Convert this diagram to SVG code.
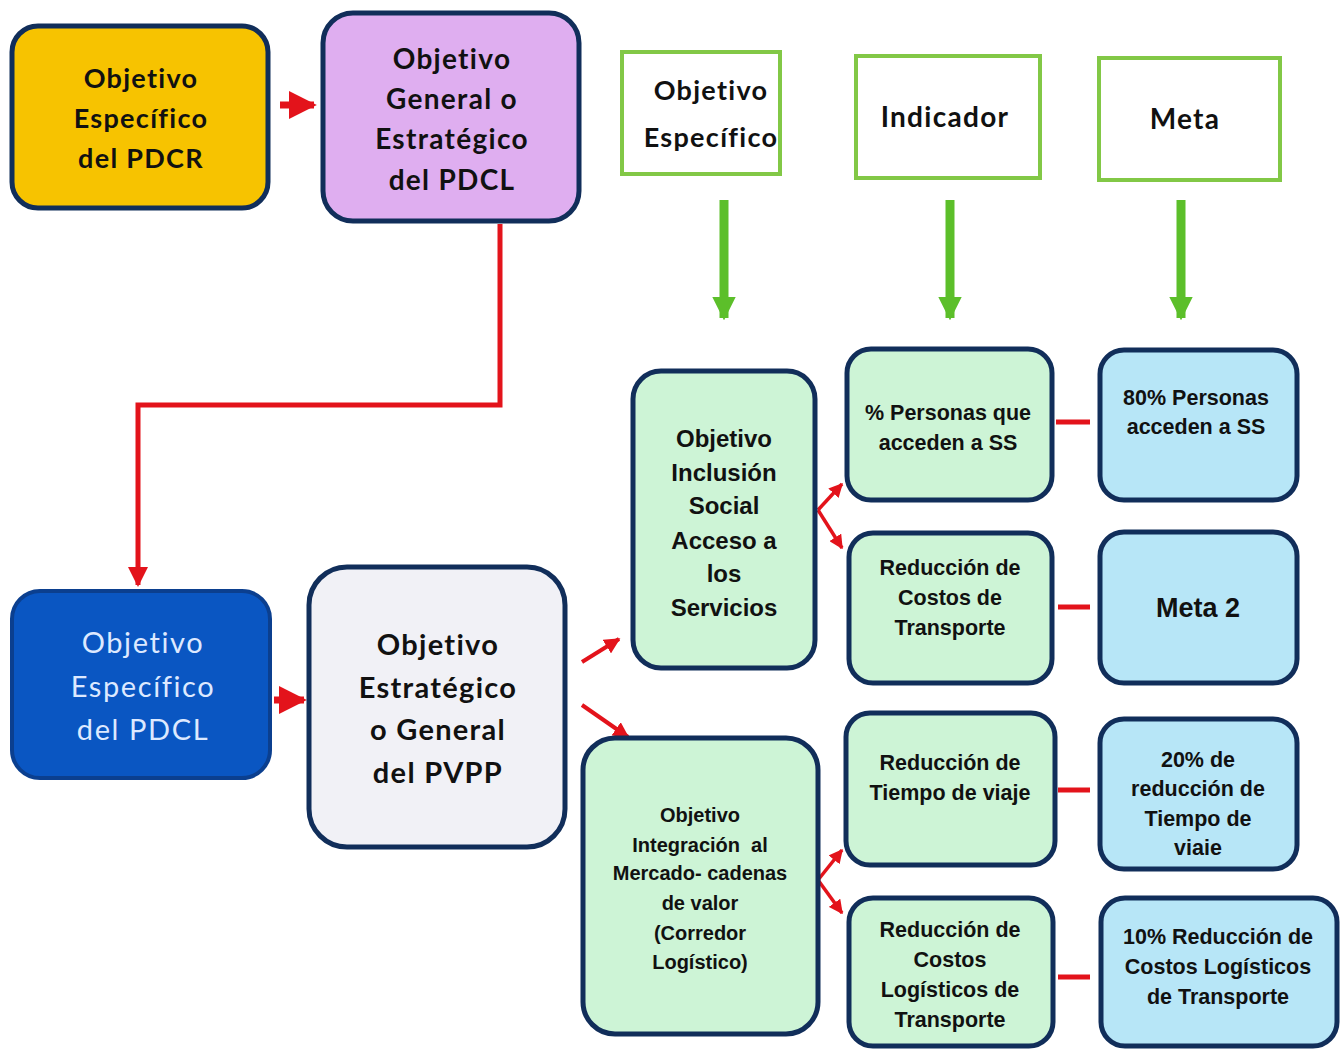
<svg xmlns="http://www.w3.org/2000/svg" width="1342" height="1049" viewBox="0 0 1342 1049">
<defs>
<marker id="ra" viewBox="0 0 10 10" refX="9" refY="5" markerWidth="4" markerHeight="4" orient="auto" markerUnits="strokeWidth">
<path d="M0,0 L10,5 L0,10 z" fill="#e3131b"/>
</marker>
<marker id="ga" viewBox="0 0 10 10" refX="9" refY="5" markerWidth="2.6" markerHeight="2.6" orient="auto" markerUnits="strokeWidth">
<path d="M0,0 L10,5 L0,10 z" fill="#5cbf2a"/>
</marker>
<style>
.box{stroke:#112e5a;stroke-width:5}
.hdr{fill:#ffffff;stroke:#82c846;stroke-width:4}
.t1{font-family:Lato,"Open Sans","Liberation Sans",sans-serif;font-weight:bold;text-anchor:middle;fill:#111;letter-spacing:1.3px}
.t2{font-family:"Liberation Sans Narrow","Liberation Sans",Arial,sans-serif;font-weight:bold;text-anchor:middle;fill:#111}
.grn{fill:#cdf4d6}
.blu{fill:#b7e6f7}
.rl{stroke:#e3131b;fill:none}
</style>
</defs>
<rect width="1342" height="1049" fill="#ffffff"/>

<g id="connectors">
<path class="rl" d="M280,105 L314,105" stroke-width="7" marker-end="url(#ra)"/>
<path class="rl" d="M500,224 L500,405 L138,405 L138,585" stroke-width="5" marker-end="url(#ra)"/>
<path class="rl" d="M274,700 L304,700" stroke-width="7" marker-end="url(#ra)"/>
<path class="rl" d="M582,662 L619,639" stroke-width="4" marker-end="url(#ra)"/>
<path class="rl" d="M582,705 L628,737" stroke-width="4" marker-end="url(#ra)"/>
<path class="rl" d="M818,510 L842,484" stroke-width="3.5" marker-end="url(#ra)"/>
<path class="rl" d="M818,510 L842,548" stroke-width="3.5" marker-end="url(#ra)"/>
<path class="rl" d="M818,880 L842,850" stroke-width="3.5" marker-end="url(#ra)"/>
<path class="rl" d="M818,880 L842,913" stroke-width="3.5" marker-end="url(#ra)"/>
<path class="rl" d="M1056,422 L1090,422" stroke-width="5"/>
<path class="rl" d="M1058,607 L1090,607" stroke-width="5"/>
<path class="rl" d="M1058,790 L1090,790" stroke-width="5"/>
<path class="rl" d="M1058,977 L1090,977" stroke-width="5"/>
<path d="M724,200 L724,318" stroke="#5cbf2a" stroke-width="9" marker-end="url(#ga)"/>
<path d="M950,200 L950,318" stroke="#5cbf2a" stroke-width="9" marker-end="url(#ga)"/>
<path d="M1181,200 L1181,318" stroke="#5cbf2a" stroke-width="9" marker-end="url(#ga)"/>
</g>

<g id="n-pdcr">
<rect class="box" x="12" y="26" width="256" height="182" rx="26" fill="#f7c300"/>
<text class="t1" font-size="27" x="141" y="88">Objetivo</text>
<text class="t1" font-size="27" x="141" y="128">Específico</text>
<text class="t1" font-size="27" x="141" y="168">del PDCR</text>
</g>

<g id="n-pdcl-gen">
<rect class="box" x="323" y="13" width="256" height="208" rx="30" fill="#dfaef0"/>
<text class="t1" font-size="28" x="452" y="69">Objetivo</text>
<text class="t1" font-size="28" x="452" y="109">General o</text>
<text class="t1" font-size="28" x="452" y="149">Estratégico</text>
<text class="t1" font-size="28" x="452" y="190">del PDCL</text>
</g>

<g id="h-obj">
<rect class="hdr" x="622" y="52" width="158" height="122"/>
<text class="t1" font-size="27" x="711" y="100">Objetivo</text>
<text class="t1" font-size="27" x="711" y="147">Específico</text>
</g>
<g id="h-ind">
<rect class="hdr" x="856" y="56" width="184" height="122"/>
<text class="t1" font-size="28" x="945" y="127">Indicador</text>
</g>
<g id="h-meta">
<rect class="hdr" x="1099" y="58" width="181" height="122"/>
<text class="t1" font-size="28" x="1185" y="129">Meta</text>
</g>

<g id="n-pdcl-esp">
<rect x="12" y="591" width="258" height="187" rx="28" fill="#0a56c2" stroke="#0b3f8f" stroke-width="4"/>
<text class="t1" font-size="29" x="143" y="653" style="fill:#dde9ff;font-weight:normal;letter-spacing:1.6px">Objetivo</text>
<text class="t1" font-size="29" x="143" y="697" style="fill:#dde9ff;font-weight:normal;letter-spacing:1.6px">Específico</text>
<text class="t1" font-size="29" x="143" y="740" style="fill:#dde9ff;font-weight:normal;letter-spacing:1.6px">del PDCL</text>
</g>

<g id="n-pvpp">
<rect class="box" x="309" y="567" width="256" height="280" rx="38" fill="#f1f1f6"/>
<text class="t1" font-size="29" x="438" y="655">Objetivo</text>
<text class="t1" font-size="29" x="438" y="698">Estratégico</text>
<text class="t1" font-size="29" x="438" y="740">o General</text>
<text class="t1" font-size="29" x="438" y="783">del PVPP</text>
</g>

<g id="n-inclusion">
<rect class="box grn" x="633" y="371" width="182" height="297" rx="28"/>
<text class="t2" font-size="24" x="724" y="447">Objetivo</text>
<text class="t2" font-size="24" x="724" y="481">Inclusión</text>
<text class="t2" font-size="24" x="724" y="514">Social</text>
<text class="t2" font-size="24" x="724" y="549">Acceso a</text>
<text class="t2" font-size="24" x="724" y="582">los</text>
<text class="t2" font-size="24" x="724" y="616">Servicios</text>
</g>

<g id="n-ind1">
<rect class="box grn" x="847" y="349" width="205" height="151" rx="24"/>
<text class="t2" font-size="21.5" x="948" y="420">% Personas que</text>
<text class="t2" font-size="21.5" x="948" y="450">acceden a SS</text>
</g>
<g id="n-meta1">
<rect class="box blu" x="1100" y="350" width="197" height="150" rx="24"/>
<text class="t2" font-size="21.5" x="1196" y="405">80% Personas</text>
<text class="t2" font-size="21.5" x="1196" y="434">acceden a SS</text>
</g>
<g id="n-ind2">
<rect class="box grn" x="849" y="533" width="203" height="150" rx="24"/>
<text class="t2" font-size="21.5" x="950" y="575">Reducción de</text>
<text class="t2" font-size="21.5" x="950" y="605">Costos de</text>
<text class="t2" font-size="21.5" x="950" y="635">Transporte</text>
</g>
<g id="n-meta2">
<rect class="box blu" x="1100" y="532" width="197" height="151" rx="24"/>
<text class="t2" font-size="27" x="1198" y="617">Meta 2</text>
</g>

<g id="n-integracion">
<rect class="box grn" x="583" y="738" width="235" height="296" rx="32"/>
<text class="t2" font-size="20" x="700" y="822">Objetivo</text>
<text class="t2" font-size="20" x="700" y="852" xml:space="preserve">Integración  al</text>
<text class="t2" font-size="20" x="700" y="880">Mercado- cadenas</text>
<text class="t2" font-size="20" x="700" y="910">de valor</text>
<text class="t2" font-size="20" x="700" y="940">(Corredor</text>
<text class="t2" font-size="20" x="700" y="969">Logístico)</text>
</g>

<g id="n-ind3">
<rect class="box grn" x="846" y="713" width="209" height="152" rx="24"/>
<text class="t2" font-size="21.5" x="950" y="770">Reducción de</text>
<text class="t2" font-size="21.5" x="950" y="800">Tiempo de viaje</text>
</g>
<g id="n-meta3">
<rect class="box blu" x="1100" y="719" width="197" height="150" rx="24"/>
<text class="t2" font-size="21.5" x="1198" y="767">20% de</text>
<text class="t2" font-size="21.5" x="1198" y="796">reducción de</text>
<text class="t2" font-size="21.5" x="1198" y="826">Tiempo de</text>
<text class="t2" font-size="21.5" x="1198" y="855">viaie</text>
</g>
<g id="n-ind4">
<rect class="box grn" x="849" y="898" width="204" height="148" rx="24"/>
<text class="t2" font-size="21.5" x="950" y="937">Reducción de</text>
<text class="t2" font-size="21.5" x="950" y="967">Costos</text>
<text class="t2" font-size="21.5" x="950" y="997">Logísticos de</text>
<text class="t2" font-size="21.5" x="950" y="1027">Transporte</text>
</g>
<g id="n-meta4">
<rect class="box blu" x="1101" y="898" width="236" height="148" rx="24"/>
<text class="t2" font-size="21.5" x="1218" y="944">10% Reducción de</text>
<text class="t2" font-size="21.5" x="1218" y="974">Costos Logísticos</text>
<text class="t2" font-size="21.5" x="1218" y="1004">de Transporte</text>
</g>
</svg>
